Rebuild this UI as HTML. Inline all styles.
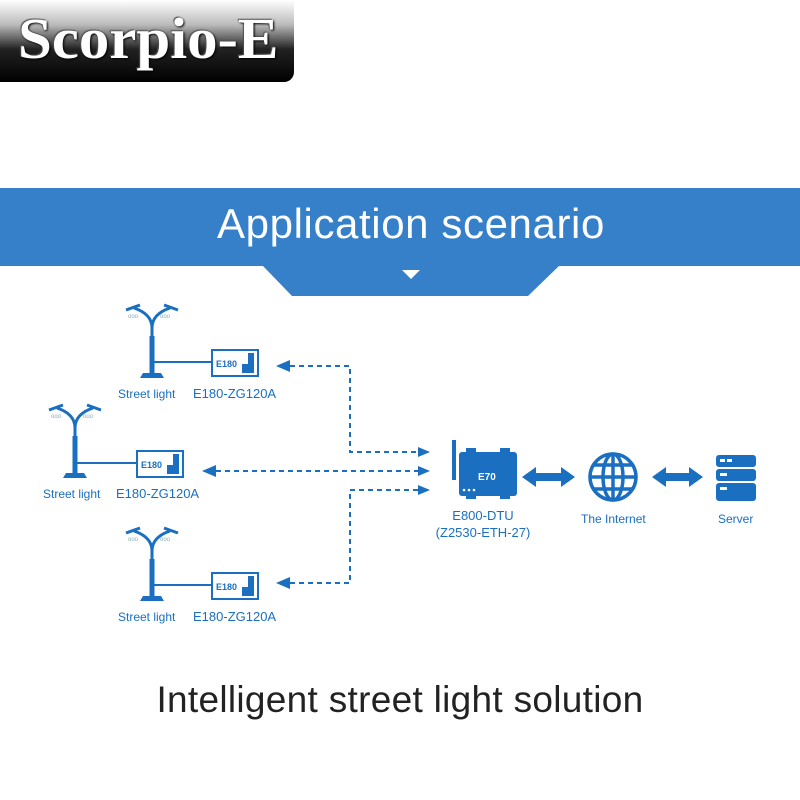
<!DOCTYPE html>
<html><head><style>
body{margin:0;width:800px;height:800px;background:#fff;overflow:hidden;position:relative;font-family:"Liberation Sans",sans-serif}
.t{position:absolute;white-space:nowrap}
</style></head><body>
<div style="position:absolute;left:0;top:0;width:294px;height:82px;border-radius:0 0 10px 0;background:linear-gradient(#fff 0%,#bbb 30%,#222 60%,#000 100%)"></div>
<div class="t" style="left:18px;top:5px;font-family:'Liberation Serif',serif;font-weight:bold;font-size:58px;color:#fff;text-shadow:1px 1px 2px #000,-1px -1px 1px #555;transform:scaleX(1.05);transform-origin:left">Scorpio-E</div>
<svg width="800" height="800" style="position:absolute;left:0;top:0">
<rect x="0" y="188" width="800" height="78" fill="#3580c8"/>
<polygon points="262,265 560,265 528,296 292,296" fill="#3580c8"/>
<polygon points="402,270 420,270 411,279" fill="#fff"/>
<defs>
<g id="L">
<path d="M0,0 V-48 Q0,-62 -18,-68 M0,-48 Q0,-62 18,-68" stroke="#1a6fc0" stroke-width="3" fill="none"/>
<rect x="-2.5" y="-40" width="5" height="40" fill="#1a6fc0"/>
<path d="M-12,2 L12,2 L9,-3 L-9,-3Z" fill="#1a6fc0"/>
<path d="M-26,-66 L-12,-71" stroke="#1a6fc0" stroke-width="3"/>
<path d="M26,-66 L12,-71" stroke="#1a6fc0" stroke-width="3"/>
<text x="-24" y="-58" font-size="6" fill="#8ab">ooo</text>
<text x="8" y="-58" font-size="6" fill="#8ab">ooo</text>
</g>
<g id="M">
<rect x="0" y="0" width="46" height="26" fill="#fff" stroke="#1a6fc0" stroke-width="2"/>
<text x="4" y="17" font-size="9" font-weight="bold" fill="#1a6fc0">E180</text>
<path d="M36,3 H42 V23 H30 V14 H36Z" fill="#1a6fc0"/>
</g>
</defs>
<use href="#L" x="152" y="376"/>
<line x1="152" y1="362" x2="212" y2="362" stroke="#1a6fc0" stroke-width="2"/>
<use href="#M" x="212" y="350"/>
<use href="#L" x="75" y="476"/>
<line x1="75" y1="463" x2="137" y2="463" stroke="#1a6fc0" stroke-width="2"/>
<use href="#M" x="137" y="451"/>
<use href="#L" x="152" y="599"/>
<line x1="152" y1="585" x2="212" y2="585" stroke="#1a6fc0" stroke-width="2"/>
<use href="#M" x="212" y="573"/>
<g stroke="#1a6fc0" stroke-width="2" stroke-dasharray="5,4" fill="none">
<path d="M290,366 H350 V452 H418"/>
<path d="M216,471 H418"/>
<path d="M290,583 H350 V490 H418"/>
</g>
<g fill="#1a6fc0">
<polygon points="276,366 290,360 290,372"/>
<polygon points="202,471 216,465 216,477"/>
<polygon points="276,583 290,577 290,589"/>
<polygon points="430,452 418,447 418,457"/>
<polygon points="430,471 418,466 418,476"/>
<polygon points="430,490 418,485 418,495"/>
<rect x="452" y="440" width="4" height="40"/>
<rect x="459" y="452" width="58" height="44" rx="3"/>
<rect x="466" y="448" width="10" height="4"/><rect x="500" y="448" width="10" height="4"/>
<rect x="466" y="496" width="10" height="3"/><rect x="500" y="496" width="10" height="3"/>
<polygon points="522,477 536,467 536,473 561,473 561,467 575,477 561,487 561,481 536,481 536,487"/>
<polygon points="652,477 666,467 666,473 689,473 689,467 703,477 689,487 689,481 666,481 666,487"/>
<rect x="716" y="455" width="40" height="12" rx="3"/>
<rect x="716" y="469" width="40" height="12" rx="3"/>
<rect x="716" y="483" width="40" height="18" rx="3"/>
</g>
<text x="478" y="480" font-size="10" font-weight="bold" fill="#fff">E70</text>
<g fill="#fff"><circle cx="464" cy="490" r="1.3"/><circle cx="469" cy="490" r="1.3"/><circle cx="474" cy="490" r="1.3"/>
<rect x="720" y="459" width="5" height="3"/><rect x="727" y="459" width="5" height="3"/><rect x="720" y="473" width="7" height="3"/><rect x="720" y="487" width="7" height="3"/></g>
<g stroke="#1a6fc0" stroke-width="3.5" fill="none">
<circle cx="613" cy="477" r="23"/>
<ellipse cx="613" cy="477" rx="10" ry="23"/>
<line x1="613" y1="454" x2="613" y2="500"/>
<line x1="590" y1="477" x2="636" y2="477"/>
<path d="M594,465 H632 M594,489 H632"/>
</g>
</svg>
<div class="t" style="left:0;width:822px;text-align:center;top:200px;font-size:42px;letter-spacing:0.6px;color:#fff">Application scenario</div>
<div class="t" style="left:118px;top:387px;font-size:12px;color:#1a6fc0">Street light</div>
<div class="t" style="left:193px;top:386px;font-size:13px;color:#1a6fc0">E180-ZG120A</div>
<div class="t" style="left:43px;top:487px;font-size:12px;color:#1a6fc0">Street light</div>
<div class="t" style="left:116px;top:486px;font-size:13px;color:#1a6fc0">E180-ZG120A</div>
<div class="t" style="left:118px;top:610px;font-size:12px;color:#1a6fc0">Street light</div>
<div class="t" style="left:193px;top:609px;font-size:13px;color:#1a6fc0">E180-ZG120A</div>
<div class="t" style="left:430px;top:507px;width:106px;text-align:center;font-size:13px;line-height:17px;color:#1a6fc0">E800-DTU<br>(Z2530-ETH-27)</div>
<div class="t" style="left:581px;top:512px;font-size:12px;color:#1a6fc0">The Internet</div>
<div class="t" style="left:718px;top:512px;font-size:12px;color:#1a6fc0">Server</div>
<div class="t" style="left:0;width:800px;text-align:center;top:679px;font-size:37px;letter-spacing:0.3px;color:#222">Intelligent street light solution</div>
</body></html>
